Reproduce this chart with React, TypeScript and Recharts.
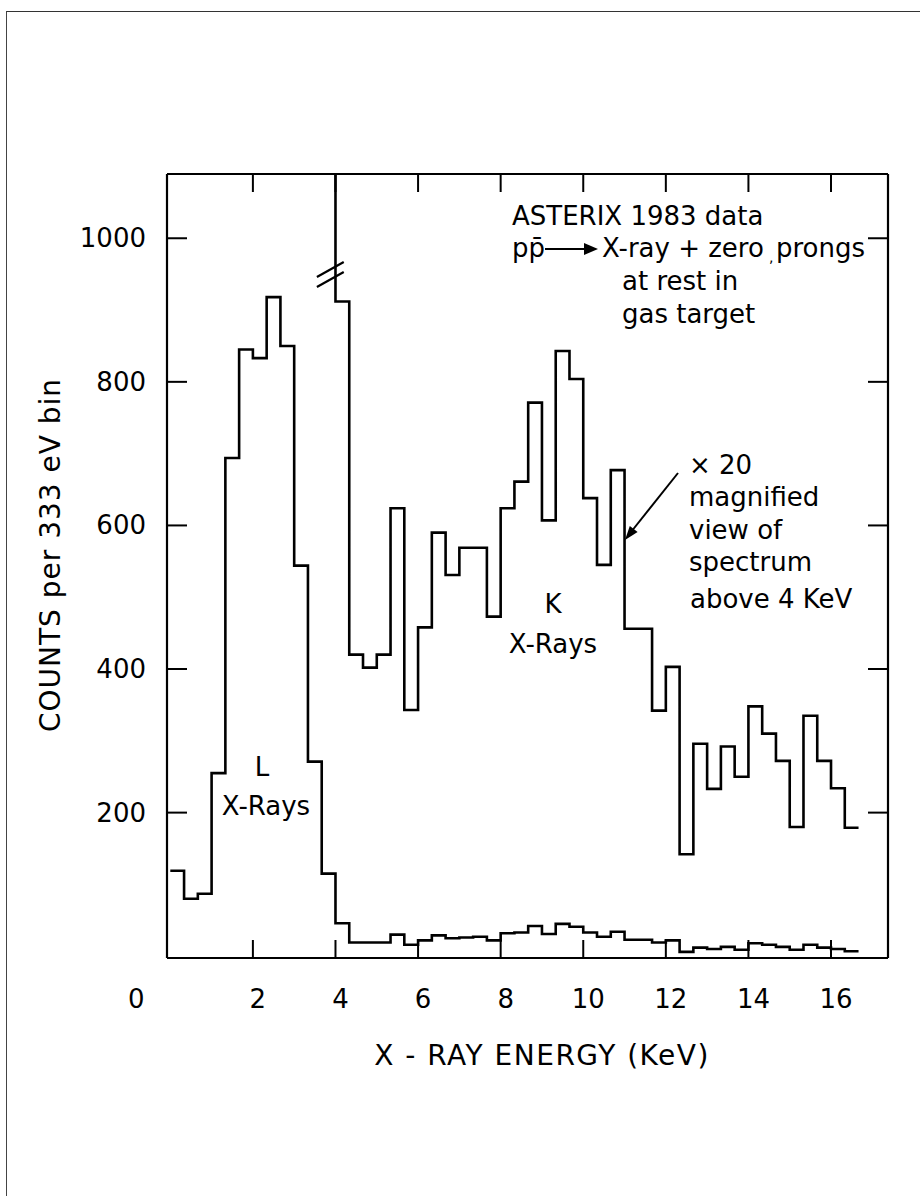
import { LineChart, Line, XAxis, YAxis, ReferenceLine, Customized } from "recharts";

// 333 eV bins, first bin starts at 0 keV
const BIN_WIDTH = 1 / 3;

// counts per bin, full spectrum (0 - 16.67 keV)
const fullCounts = [
  119, 80, 87, 255, 694, 845, 833, 918, 850, 544, 271, 115,
  46, 19, 19, 19, 30, 16, 22, 29, 25, 26, 27, 22,
  32, 33, 42, 31, 45, 41, 33, 27, 34, 23, 23, 19,
  22, 6, 12, 10, 13, 9, 18, 16, 13, 9, 16, 12, 10, 7,
];

// x20 magnified view, starts at bin 11 (3.67 keV, off scale)
const MAG_START_BIN = 11;
const magCounts = [
  2340, 912, 420, 402, 420, 624, 343, 458, 590, 531, 569, 569, 473,
  624, 661, 771, 607, 843, 804, 638, 545, 677, 456, 456, 342,
  403, 142, 296, 233, 292, 250, 348, 310, 272, 180, 335, 272, 234, 179,
];

const xTicks = [0, 2, 4, 6, 8, 10, 12, 14, 16];
const yTicks = [200, 400, 600, 800, 1000];

// one point per bin edge, last edge repeats the last bin (stepAfter)
const data = Array.from({ length: fullCounts.length + 1 }, (_, i) => {
  const b = Math.min(i, fullCounts.length - 1);
  return {
    e: i * BIN_WIDTH,
    full: fullCounts[b],
    mag: i >= MAG_START_BIN ? magCounts[b - MAG_START_BIN] : null,
  };
});

const FONT = "'DejaVu Sans', sans-serif";
const X_DOMAIN: [number, number] = [-0.08, 17.38];
const Y_DOMAIN: [number, number] = [-2.5, 1089.5];

function BottomTick(props: any) {
  const { x, y, payload } = props;
  const v = payload.value;
  return (
    <g>
      {v !== 0 && <line x1={x} y1={y} x2={x} y2={y - 18} stroke="#000" strokeWidth={2} />}
      <text x={v === 0 ? x - 34 : x + 5} y={y + 50} textAnchor="middle" fontFamily={FONT} fontSize={26} fill="#000">
        {v}
      </text>
    </g>
  );
}

function TopTick(props: any) {
  const { x, y } = props;
  return <line x1={x} y1={y} x2={x} y2={y + 18} stroke="#000" strokeWidth={2} />;
}

function LeftTick(props: any) {
  const { x, y, payload } = props;
  return (
    <g>
      <line x1={x} y1={y} x2={x + 20} y2={y} stroke="#000" strokeWidth={2} />
      <text x={x - 21} y={y + 9} textAnchor="end" fontFamily={FONT} fontSize={26} fill="#000">
        {payload.value}
      </text>
    </g>
  );
}

function RightTick(props: any) {
  const { x, y } = props;
  return <line x1={x} y1={y} x2={x - 20} y2={y} stroke="#000" strokeWidth={2} />;
}

function Notes() {
  return (
    <g fontFamily={FONT} fontSize={26} fill="#000">
      <text x={512} y={225}>ASTERIX 1983 data</text>
      <text x={512} y={257}>pp̄</text>
      <line x1={545} y1={249} x2={586} y2={249} stroke="#000" strokeWidth={2} />
      <polygon points="584,243 598,249 584,255" fill="#000" />
      <text x={602} y={257}>X-ray + zero</text>
      <text x={769} y={262} fontSize={14}>,</text>
      <text x={865} y={257} textAnchor="end">prongs</text>
      <text x={622} y={290}>at rest in</text>
      <text x={622} y={323}>gas target</text>

      <text x={689} y={474}>× 20</text>
      <text x={689} y={506}>magnified</text>
      <text x={689} y={539}>view of</text>
      <text x={689} y={571}>spectrum</text>
      <text x={690} y={608}>above 4 KeV</text>
      <line x1={678} y1={473} x2={631} y2={532} stroke="#000" strokeWidth={2} />
      <polygon points="625,540 637.6,532.1 629.8,525.9" fill="#000" />

      <text x={553} y={613} textAnchor="middle">K</text>
      <text x={553} y={653} textAnchor="middle">X-Rays</text>
      <text x={262} y={776} textAnchor="middle">L</text>
      <text x={266} y={815} textAnchor="middle">X-Rays</text>

      <text x={542} y={1065} textAnchor="middle" fontSize={28} letterSpacing={1.5}>
        X - RAY ENERGY (KeV)
      </text>
      <text
        x={50}
        y={555}
        textAnchor="middle"
        dominantBaseline="central"
        fontSize={28}
        letterSpacing={1}
        transform="rotate(-90, 50, 555)"
      >
        COUNTS per 333 eV bin
      </text>
    </g>
  );
}

export default function App() {
  return (
    <div style={{ position: "absolute", left: 0, top: 0, width: 920, height: 1196, background: "#fff" }}>
      <div
        style={{
          position: "absolute",
          left: 6,
          top: 11,
          right: 0,
          bottom: 0,
          borderTop: "1.5px solid #333",
          borderLeft: "1.5px solid #444",
        }}
      />
      <LineChart
        width={920}
        height={1196}
        data={data}
        margin={{ top: 173, right: 31, bottom: 237, left: 166 }}
        style={{ position: "absolute", left: 0, top: 0 }}
      >
        <XAxis
          xAxisId="b"
          type="number"
          dataKey="e"
          orientation="bottom"
          domain={X_DOMAIN}
          allowDataOverflow
          ticks={xTicks}
          interval={0}
          height={1}
          tickSize={0}
          tickMargin={0}
          tickLine={false}
          axisLine={{ stroke: "#000", strokeWidth: 2.2 }}
          tick={BottomTick}
        />
        <XAxis
          xAxisId="t"
          type="number"
          dataKey="e"
          orientation="top"
          domain={X_DOMAIN}
          allowDataOverflow
          ticks={xTicks.slice(1)}
          interval={0}
          height={1}
          tickSize={0}
          tickMargin={0}
          tickLine={false}
          axisLine={{ stroke: "#000", strokeWidth: 2.2 }}
          tick={TopTick}
        />
        <YAxis
          yAxisId="l"
          type="number"
          domain={Y_DOMAIN}
          allowDataOverflow
          ticks={yTicks}
          interval={0}
          width={1}
          tickSize={0}
          tickMargin={0}
          tickLine={false}
          axisLine={{ stroke: "#000", strokeWidth: 2.2 }}
          tick={LeftTick}
        />
        <YAxis
          yAxisId="r"
          orientation="right"
          type="number"
          domain={Y_DOMAIN}
          allowDataOverflow
          ticks={yTicks}
          interval={0}
          width={1}
          tickSize={0}
          tickMargin={0}
          tickLine={false}
          axisLine={{ stroke: "#000", strokeWidth: 2.2 }}
          tick={RightTick}
        />
        <Line
          xAxisId="b"
          yAxisId="l"
          type="stepAfter"
          dataKey="full"
          stroke="#000"
          strokeWidth={2.6}
          dot={false}
          activeDot={false}
          isAnimationActive={false}
        />
        <Line
          xAxisId="b"
          yAxisId="l"
          type="stepAfter"
          dataKey="mag"
          stroke="#000"
          strokeWidth={2.6}
          dot={false}
          activeDot={false}
          connectNulls={false}
          isAnimationActive={false}
        />
        <ReferenceLine
          xAxisId="b"
          yAxisId="l"
          segment={[{ x: 3.55, y: 946 }, { x: 4.2, y: 967 }]}
          stroke="#000"
          strokeWidth={2.2}
          ifOverflow="visible"
        />
        <ReferenceLine
          xAxisId="b"
          yAxisId="l"
          segment={[{ x: 3.55, y: 932 }, { x: 4.2, y: 953 }]}
          stroke="#000"
          strokeWidth={2.2}
          ifOverflow="visible"
        />
        <Customized component={Notes} />
      </LineChart>
    </div>
  );
}
